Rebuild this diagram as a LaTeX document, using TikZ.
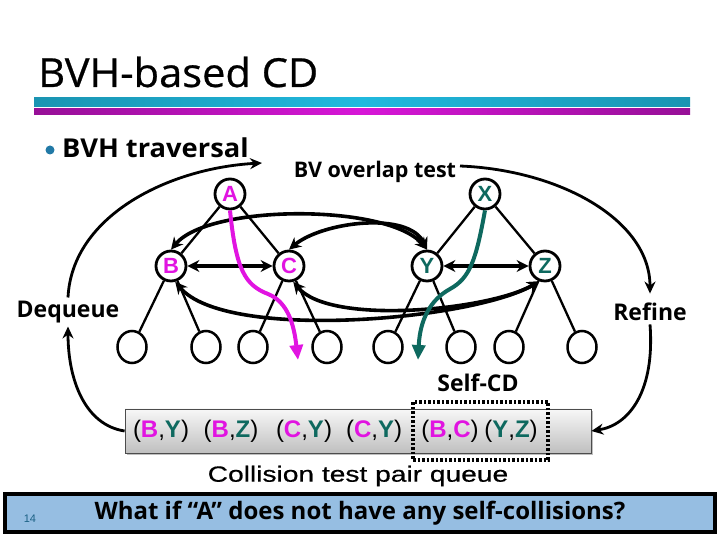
\documentclass[tikz,border=0pt]{standalone}
\usepackage{fontspec}
\setmainfont{Open Sans}
\newfontfamily\arialf{Liberation Sans}
\newfontfamily\arialg{Liberation Sans}[FakeBold=0.5]
\newfontfamily\titulof{Open Sans}[FakeBold=0.6]
\usetikzlibrary{arrows.meta,shadows,shapes.geometric}
\definecolor{mag}{RGB}{225,20,225}
\definecolor{verde}{RGB}{14,105,95}
\definecolor{cian}{RGB}{32,185,222}
\definecolor{morado}{RGB}{215,22,215}
\definecolor{azul}{RGB}{150,190,226}
\definecolor{punto}{RGB}{33,121,166}
\begin{document}
\begin{tikzpicture}[x=1pt,y=1pt,
  bv/.style={circle, draw, line width=2.8pt, fill=white, minimum size=30pt, inner sep=0pt,
             font=\arialf\bfseries\fontsize{22}{22}\selectfont},
  hoja/.style={ellipse, draw, line width=2.5pt, minimum width=29pt, minimum height=32pt, inner sep=0pt},
  arista/.style={line width=2.3pt},
  par/.style={{Stealth[length=12pt,width=12pt]}-{Stealth[length=12pt,width=12pt]}, line width=3.6pt},
  ciclo/.style={-{Stealth[length=12pt,width=11pt]}, line width=2.8pt},
  etiq/.style={font=\bfseries\fontsize{23}{23}\selectfont},
  camino/.style={-{Triangle[length=15pt,width=13pt]}, line width=4pt},
  pareja/.style={font=\arialf\fontsize{24}{24}\selectfont, inner sep=0pt}]
\useasboundingbox (0,0) rectangle (720,540);
\node[anchor=west, font=\titulof\fontsize{40}{40}\selectfont, inner sep=0pt, xscale=1.04](titulo) at (38,468){BVH-based CD};
\shade[left color=cian!80!black, right color=cian!80!black, middle color=cian] (34,433) rectangle (690,442);
\shade[left color=morado!70!black, right color=morado!70!black, middle color=morado] (34,425) rectangle (690,431);
\fill[punto] (50,390) circle (4.5);
\node[anchor=west, font=\bfseries\fontsize{26}{26}\selectfont, inner sep=0pt, xscale=1.05](trav) at (62,392){BVH traversal};
\node[etiq, font=\bfseries\fontsize{21.5}{21.5}\selectfont](ovl) at (375,368){BV overlap test};
\node[etiq](deq) at (68,228){Dequeue};
\node[etiq](ref) at (650,228){Refine};
\node[etiq](selfcd) at (478,157){Self-CD};
\coordinate (ovlin) at (262,377);
\coordinate (ovlout) at (460,374);
% arbol A y arbol X
\node[bv, text=mag](A) at (230,346){A};
\node[bv, text=mag](B) at (171,274){B};
\node[bv, text=mag](C) at (289,274){C};
\node[bv, text=verde](X) at (485,346){X};
\node[bv, text=verde](Y) at (427,274){Y};
\node[bv, text=verde](Z) at (545,274){Z};
\foreach \x [count=\i] in {132,206,253,327,388,461,509,582}
  \node[hoja](h\i) at (\x,193){};
\foreach \p/\h in {A/B,A/C,X/Y,X/Z,B/h1,B/h2,C/h3,C/h4,Y/h5,Y/h6,Z/h7,Z/h8}
  \draw[arista](\p)--(\h);
% pruebas de solapamiento
\draw[par](B)--(C);
\draw[par](Y)--(Z);
\draw[par](B.north) to[out=50, in=130, looseness=0.6] (Y.north);
\draw[par](C.north) to[out=40, in=115, looseness=0.8] (Y.north);
\draw[par](B.-75) to[out=-50, in=-150, looseness=0.55] (Z.-110);
\draw[par](C.-75) to[out=-50, in=-150, looseness=0.6] (Z.-110);
\draw[camino, mag](A.south) .. controls (236,270) and (245,255) .. (268,246)
  .. controls (288,238) and (294,215) .. (298,180);
\draw[camino, verde](X.south) .. controls (476,280) and (470,262) .. (450,251)
  .. controls (430,240) and (420,220) .. (418,180);
% cola de pares
\node[draw=black!70, line width=0.8pt, top color=black!3, bottom color=black!25,
      minimum width=466pt, minimum height=44pt, inner sep=0pt,
      drop shadow={shadow xshift=2pt, shadow yshift=-2pt, opacity=0.5}](cola) at (358,109){};
\foreach \x/\a/\ca/\b/\cb [count=\i] in {161/B/mag/Y/verde, 231/B/mag/Z/verde, 304/C/mag/Y/verde,
    374/C/mag/Y/verde, 450/B/mag/C/mag, 511/Y/verde/Z/verde}
  \node[pareja](p\i) at (\x,109){(\textcolor{\ca}{\textbf{\a}},\textcolor{\cb}{\textbf{\b}})};
\node[draw, line width=3.5pt, dash pattern=on 2.5pt off 2pt, minimum width=135pt, minimum height=58pt,
      inner sep=0pt](auto) at (480.5,109){};
\node[font=\arialg\fontsize{22}{22}\selectfont, xscale=1.28](colalbl) at (358,64){Collision test pair queue};
% ciclo del recorrido
\draw[ciclo](deq.north) .. controls (72,325) and (170,372) .. (ovlin);
\draw[ciclo](ovlout) .. controls (560,370) and (650,320) .. ([yshift=6pt]ref.north);
\draw[ciclo](ref.south) .. controls (655,150) and (630,115) .. (cola.east);
\draw[ciclo](cola.west) .. controls (85,115) and (68,160) .. (deq.south);
\node[draw, line width=3.5pt, fill=azul, minimum width=710pt, minimum height=38pt, inner sep=0pt,
      font=\bfseries\fontsize{24}{24}\selectfont](preg) at (360,27){What if “A” does not have any self-collisions?};
\node[font=\arialf\fontsize{11}{11}\selectfont, text=punto!80!black](num) at (30,21){14};
\end{tikzpicture}
\end{document}
